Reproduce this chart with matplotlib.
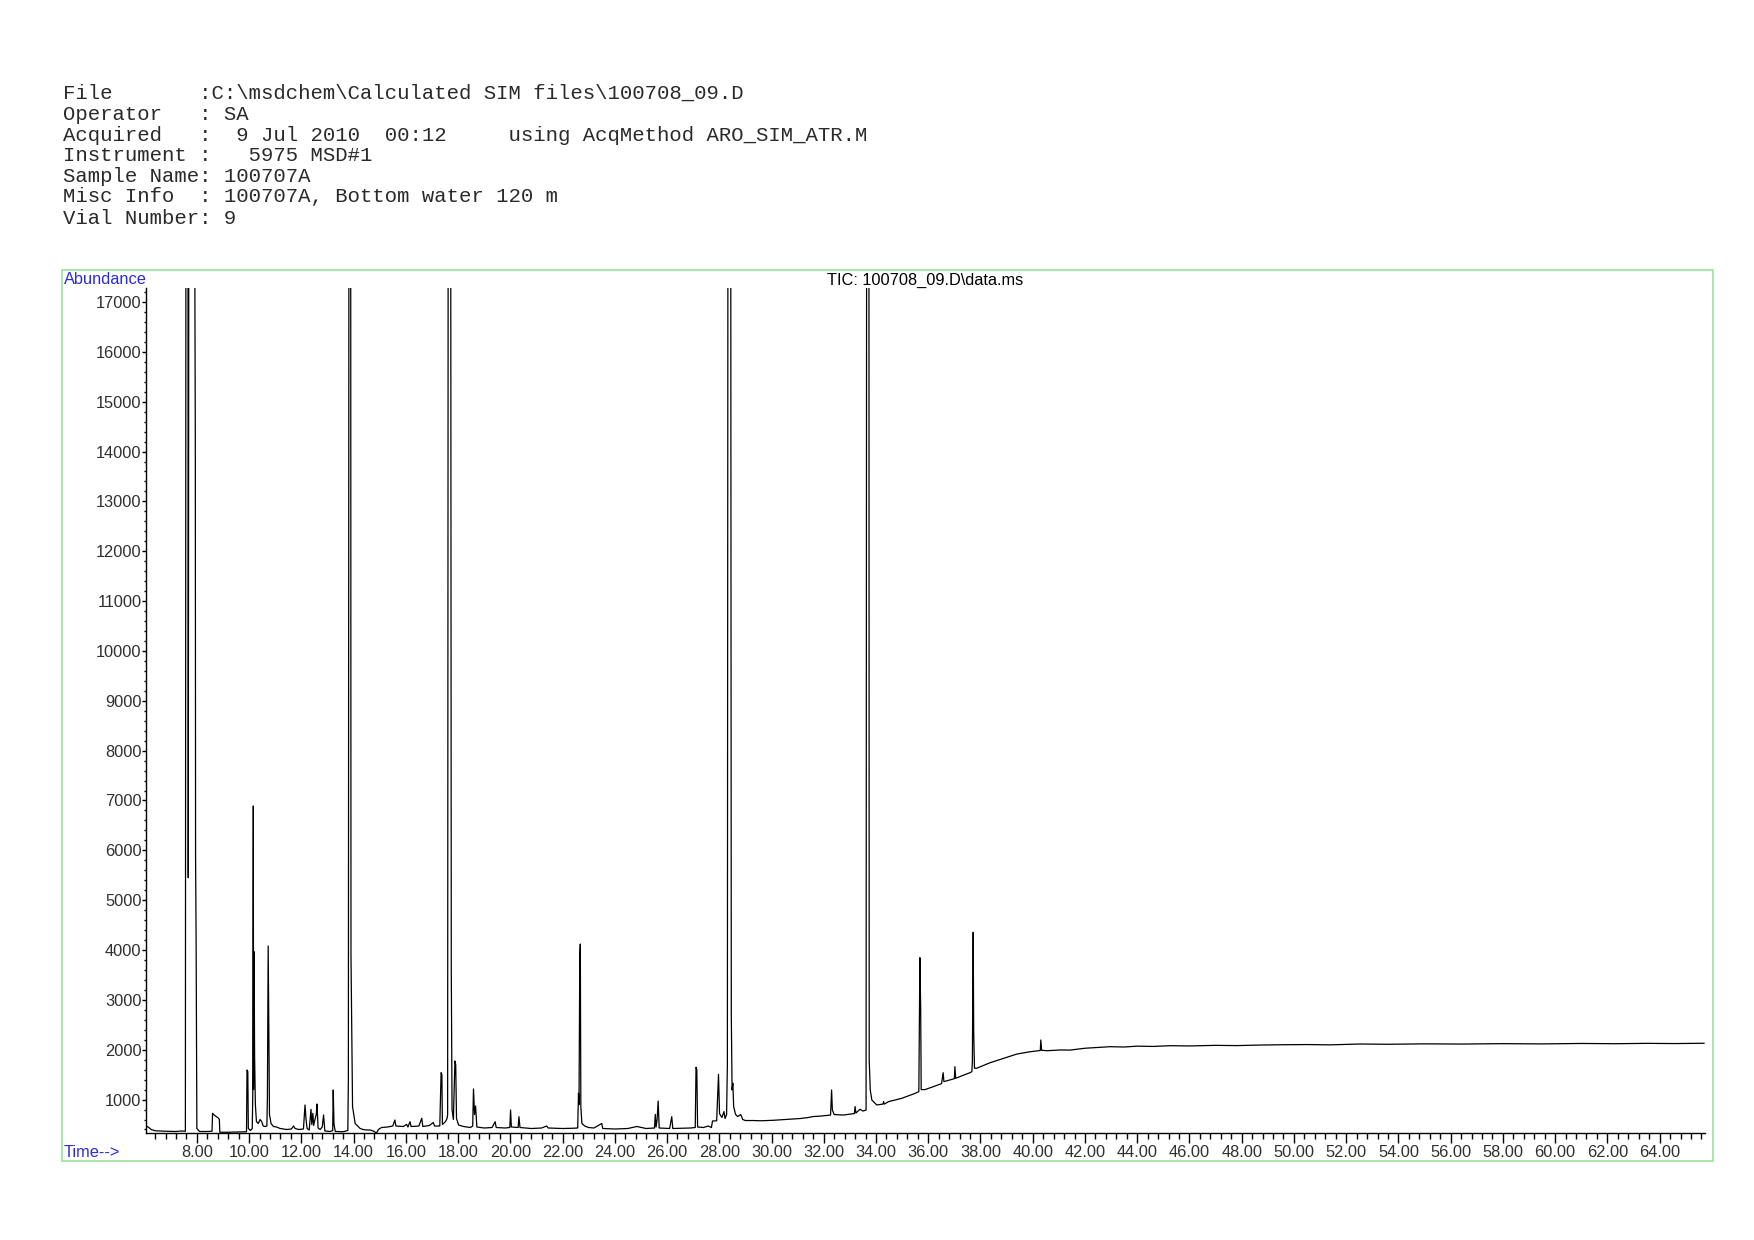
import matplotlib
matplotlib.use("Agg")
import matplotlib.pyplot as plt
from matplotlib.patches import Rectangle
from matplotlib.ticker import MultipleLocator, FormatStrFormatter

# header lines of the report
header_lines = [
    r"File       :C:\msdchem\Calculated SIM files\100708_09.D",
    "Operator   : SA",
    "Acquired   :  9 Jul 2010  00:12     using AcqMethod ARO_SIM_ATR.M",
    "Instrument :   5975 MSD#1",
    "Sample Name: 100707A",
    "Misc Info  : 100707A, Bottom water 120 m",
    "Vial Number: 9",
]
trace_title = r"TIC: 100708_09.D\data.ms"

# TIC trace (time in min, abundance); off-scale peaks set to 18000
time_early = [6.10, 6.16, 6.25, 6.40, 6.80, 7.20, 7.40, 7.56,
              7.58, 7.66, 7.67, 7.69, 7.92, 7.94, 7.95, 7.97, 8.00, 8.10, 8.40, 8.58,
              8.60, 8.66, 8.74, 8.82, 8.86, 8.88, 9.20, 9.60, 9.90,
              9.92, 9.95, 9.97, 10.05, 10.12, 10.14, 10.16, 10.17, 10.19, 10.21, 10.24,
              10.28, 10.35, 10.42, 10.48, 10.54, 10.62, 10.68, 10.70, 10.73, 10.75,
              10.78, 10.84, 10.93, 11.05, 11.19, 11.45, 11.62, 11.70, 11.76, 11.90, 12.08,
              12.14, 12.18, 12.22, 12.30, 12.37, 12.40, 12.44, 12.47, 12.52, 12.57,
              12.60, 12.64, 12.72, 12.80, 12.85, 12.90, 13.10, 13.20, 13.22, 13.25,
              13.30, 13.60, 13.78, 13.80, 13.82, 13.89, 13.90, 13.96, 14.06, 14.25,
              14.40, 14.55, 14.63]
abund_early = [460, 440, 400, 375, 365, 360, 370, 365,
               18000, 18000, 5450, 18000, 18000, 14300, 5900, 4300, 420, 360, 360, 365,
               725, 690, 660, 630, 600, 345, 345, 350, 355,
               1594, 1560, 420, 380, 420, 1100, 6890, 1200, 3967, 1861, 900,
               560, 520, 600, 560, 470, 460, 470, 1030, 4081, 2763,
               700, 520, 460, 450, 420, 400, 410, 470, 420, 400, 410,
               892, 600, 420, 390, 805, 500, 725, 480, 600, 700,
               912, 430, 400, 450, 692, 370, 360, 380, 1193, 500,
               360, 355, 380, 1430, 18000, 18000, 3900, 860, 520, 420,
               395, 390, 390]

time_mid = [14.75, 14.88, 14.95, 15.07, 15.30, 15.50, 15.58, 15.62, 15.90, 16.03,
            16.08, 16.16, 16.20, 16.50, 16.61, 16.65, 16.90, 17.05, 17.10, 17.30,
            17.35, 17.38, 17.40, 17.52, 17.58, 17.60, 17.62, 17.72, 17.73, 17.74,
            17.77, 17.82, 17.88, 17.91, 17.94, 18.02, 18.21, 18.47, 18.56, 18.59,
            18.63, 18.67, 18.72, 19.00, 19.30, 19.42, 19.46, 19.80, 19.98, 20.01,
            20.04, 20.30, 20.33, 20.37, 20.80, 21.20, 21.39, 21.45, 22.00, 22.40,
            22.58, 22.61, 22.63, 22.66, 22.68, 22.70, 22.74, 22.85, 22.99, 23.20,
            23.50, 23.54, 24.00, 24.50, 24.84, 25.20, 25.52, 25.55, 25.58, 25.62,
            25.66, 25.70, 26.10, 26.18, 26.22, 26.50, 26.90, 27.08, 27.11, 27.14,
            27.17, 27.40, 27.57, 27.70, 27.74, 27.90, 27.97, 28.01, 28.10, 28.18,
            28.22, 28.28, 28.31, 28.33, 28.44, 28.46, 28.49, 28.52, 28.55, 28.62,
            28.70, 28.82, 28.90, 29.00]
abund_mid = [370, 330, 400, 440, 450, 470, 590, 470, 460, 503,
             450, 556, 460, 470, 625, 460, 480, 540, 470, 470,
             1540, 1500, 500, 560, 625, 700, 18000, 18000, 10250, 3560,
             800, 600, 1774, 1700, 620, 490, 460, 440, 470, 1213,
             700, 872, 450, 430, 440, 556, 440, 430, 440, 791,
             450, 440, 657, 440, 420, 430, 470, 430, 420, 425,
             430, 1126, 900, 3900, 4121, 860, 520, 470, 440, 430,
             520, 420, 410, 420, 460, 420, 430, 705, 450, 600,
             972, 430, 420, 657, 420, 425, 430, 440, 1648, 1600,
             450, 440, 470, 440, 570, 575, 1508, 720, 640, 760,
             620, 700, 1700, 18000, 18000, 2697, 1193, 1327, 860, 706,
             660, 700, 600, 580]

time_late = [29.30, 29.60, 30.07, 30.50, 31.09, 31.40, 31.60, 31.90, 32.10, 32.26,
             32.30, 32.33, 32.40, 32.75, 33.17, 33.20, 33.23, 33.39, 33.50, 33.62,
             33.64, 33.73, 33.74, 33.78, 33.84, 34.03, 34.27, 34.29, 34.32, 34.48,
             34.99, 35.50, 35.64, 35.68, 35.71, 35.73, 35.87, 36.20, 36.51, 36.57,
             36.60, 36.80, 37.00, 37.02, 37.05, 37.30, 37.60, 37.67, 37.69, 37.72,
             37.74, 37.77, 37.86, 38.37, 38.88, 39.39, 39.90, 40.22, 40.29, 40.31,
             40.34, 40.54, 41.04, 41.43]
abund_late = [580, 575, 585, 600, 620, 640, 660, 670, 680, 690,
              1193, 790, 700, 690, 720, 860, 730, 806, 770, 790,
              18000, 18000, 1794, 1193, 992, 892, 910, 960, 910, 959,
              1026, 1126, 1160, 3847, 2832, 1200, 1200, 1260, 1320, 1540,
              1360, 1390, 1420, 1660, 1427, 1480, 1540, 1560, 1775, 4356,
              2364, 1630, 1630, 1740, 1826, 1913, 1960, 1980, 1985, 2196,
              1990, 1980, 1995, 1993]

time_plateau = [42.00, 42.50, 42.96, 43.50, 44.00, 44.60, 45.26, 46.00, 47.00, 47.80,
                48.70, 49.50, 50.50, 51.40, 52.53, 53.60, 55.00, 56.40, 58.00, 59.50,
                61.00, 62.30, 63.50, 64.60, 65.70]
abund_plateau = [2030, 2045, 2061, 2055, 2072, 2066, 2081, 2076, 2088, 2083,
                 2094, 2100, 2104, 2098, 2115, 2110, 2118, 2114, 2122, 2117,
                 2126, 2121, 2128, 2124, 2130]

time_min = time_early + time_mid + time_late + time_plateau
abundance = abund_early + abund_mid + abund_late + abund_plateau

x_range = (6.07, 65.74)
y_range = (330, 17290)

plt.rcParams['font.family'] = ['Liberation Sans', 'DejaVu Sans']

fig = plt.figure(figsize=(17.54, 12.4), dpi=100)
ax = fig.add_axes([0.0835, 0.0863, 0.9721 - 0.0835, 0.7681 - 0.0863])

ax.plot(time_min, abundance, color='black', linewidth=0.9)

ax.set_xlim(*x_range)
ax.set_ylim(*y_range)

ax.spines['top'].set_visible(False)
ax.spines['right'].set_visible(False)
ax.spines['left'].set_linewidth(1.0)
ax.spines['bottom'].set_linewidth(1.0)

ax.xaxis.set_major_locator(MultipleLocator(2))
ax.xaxis.set_minor_locator(MultipleLocator(0.4))
ax.xaxis.set_major_formatter(FormatStrFormatter('%.2f'))
ax.yaxis.set_major_locator(MultipleLocator(1000))
ax.yaxis.set_minor_locator(MultipleLocator(200))

ax.tick_params(axis='x', which='major', direction='out', length=7, width=1,
               pad=2, labelsize=11.8, labelcolor='#303030')
ax.tick_params(axis='x', which='minor', direction='out', length=4.3, width=1)
ax.tick_params(axis='y', which='major', direction='out', length=3, width=1,
               pad=0.5, labelsize=11.8, labelcolor='#303030')
ax.tick_params(axis='y', which='minor', direction='out', length=1.5, width=1)

# green frame around the plot
fig.patches.append(Rectangle((0.0351, 0.0637), 0.9413, 0.7189, transform=fig.transFigure,
                             fill=False, edgecolor='#9be39b', linewidth=1.2))

fig.text(0.0364, 0.7746, "Abundance", color='#2b2bd9', fontsize=11.8, va='center', ha='left')
fig.text(0.0364, 0.0702, "Time-->", color='#2b2bd9', fontsize=11.8, va='center', ha='left')
fig.text(0.5274, 0.7737, trace_title, color='black', fontsize=11.8, va='center', ha='center')

header_y = [92.8, 114.1, 135.3, 155.5, 176.7, 196.9, 218.1]
for line, ypx in zip(header_lines, header_y):
    fig.text(0.0357, 1 - (ypx + 5.5) / 1240, line, family='Liberation Mono',
             fontsize=14.9, va='baseline', ha='left', color='#2a2a2a')

fig.savefig("out.png", dpi=100)
